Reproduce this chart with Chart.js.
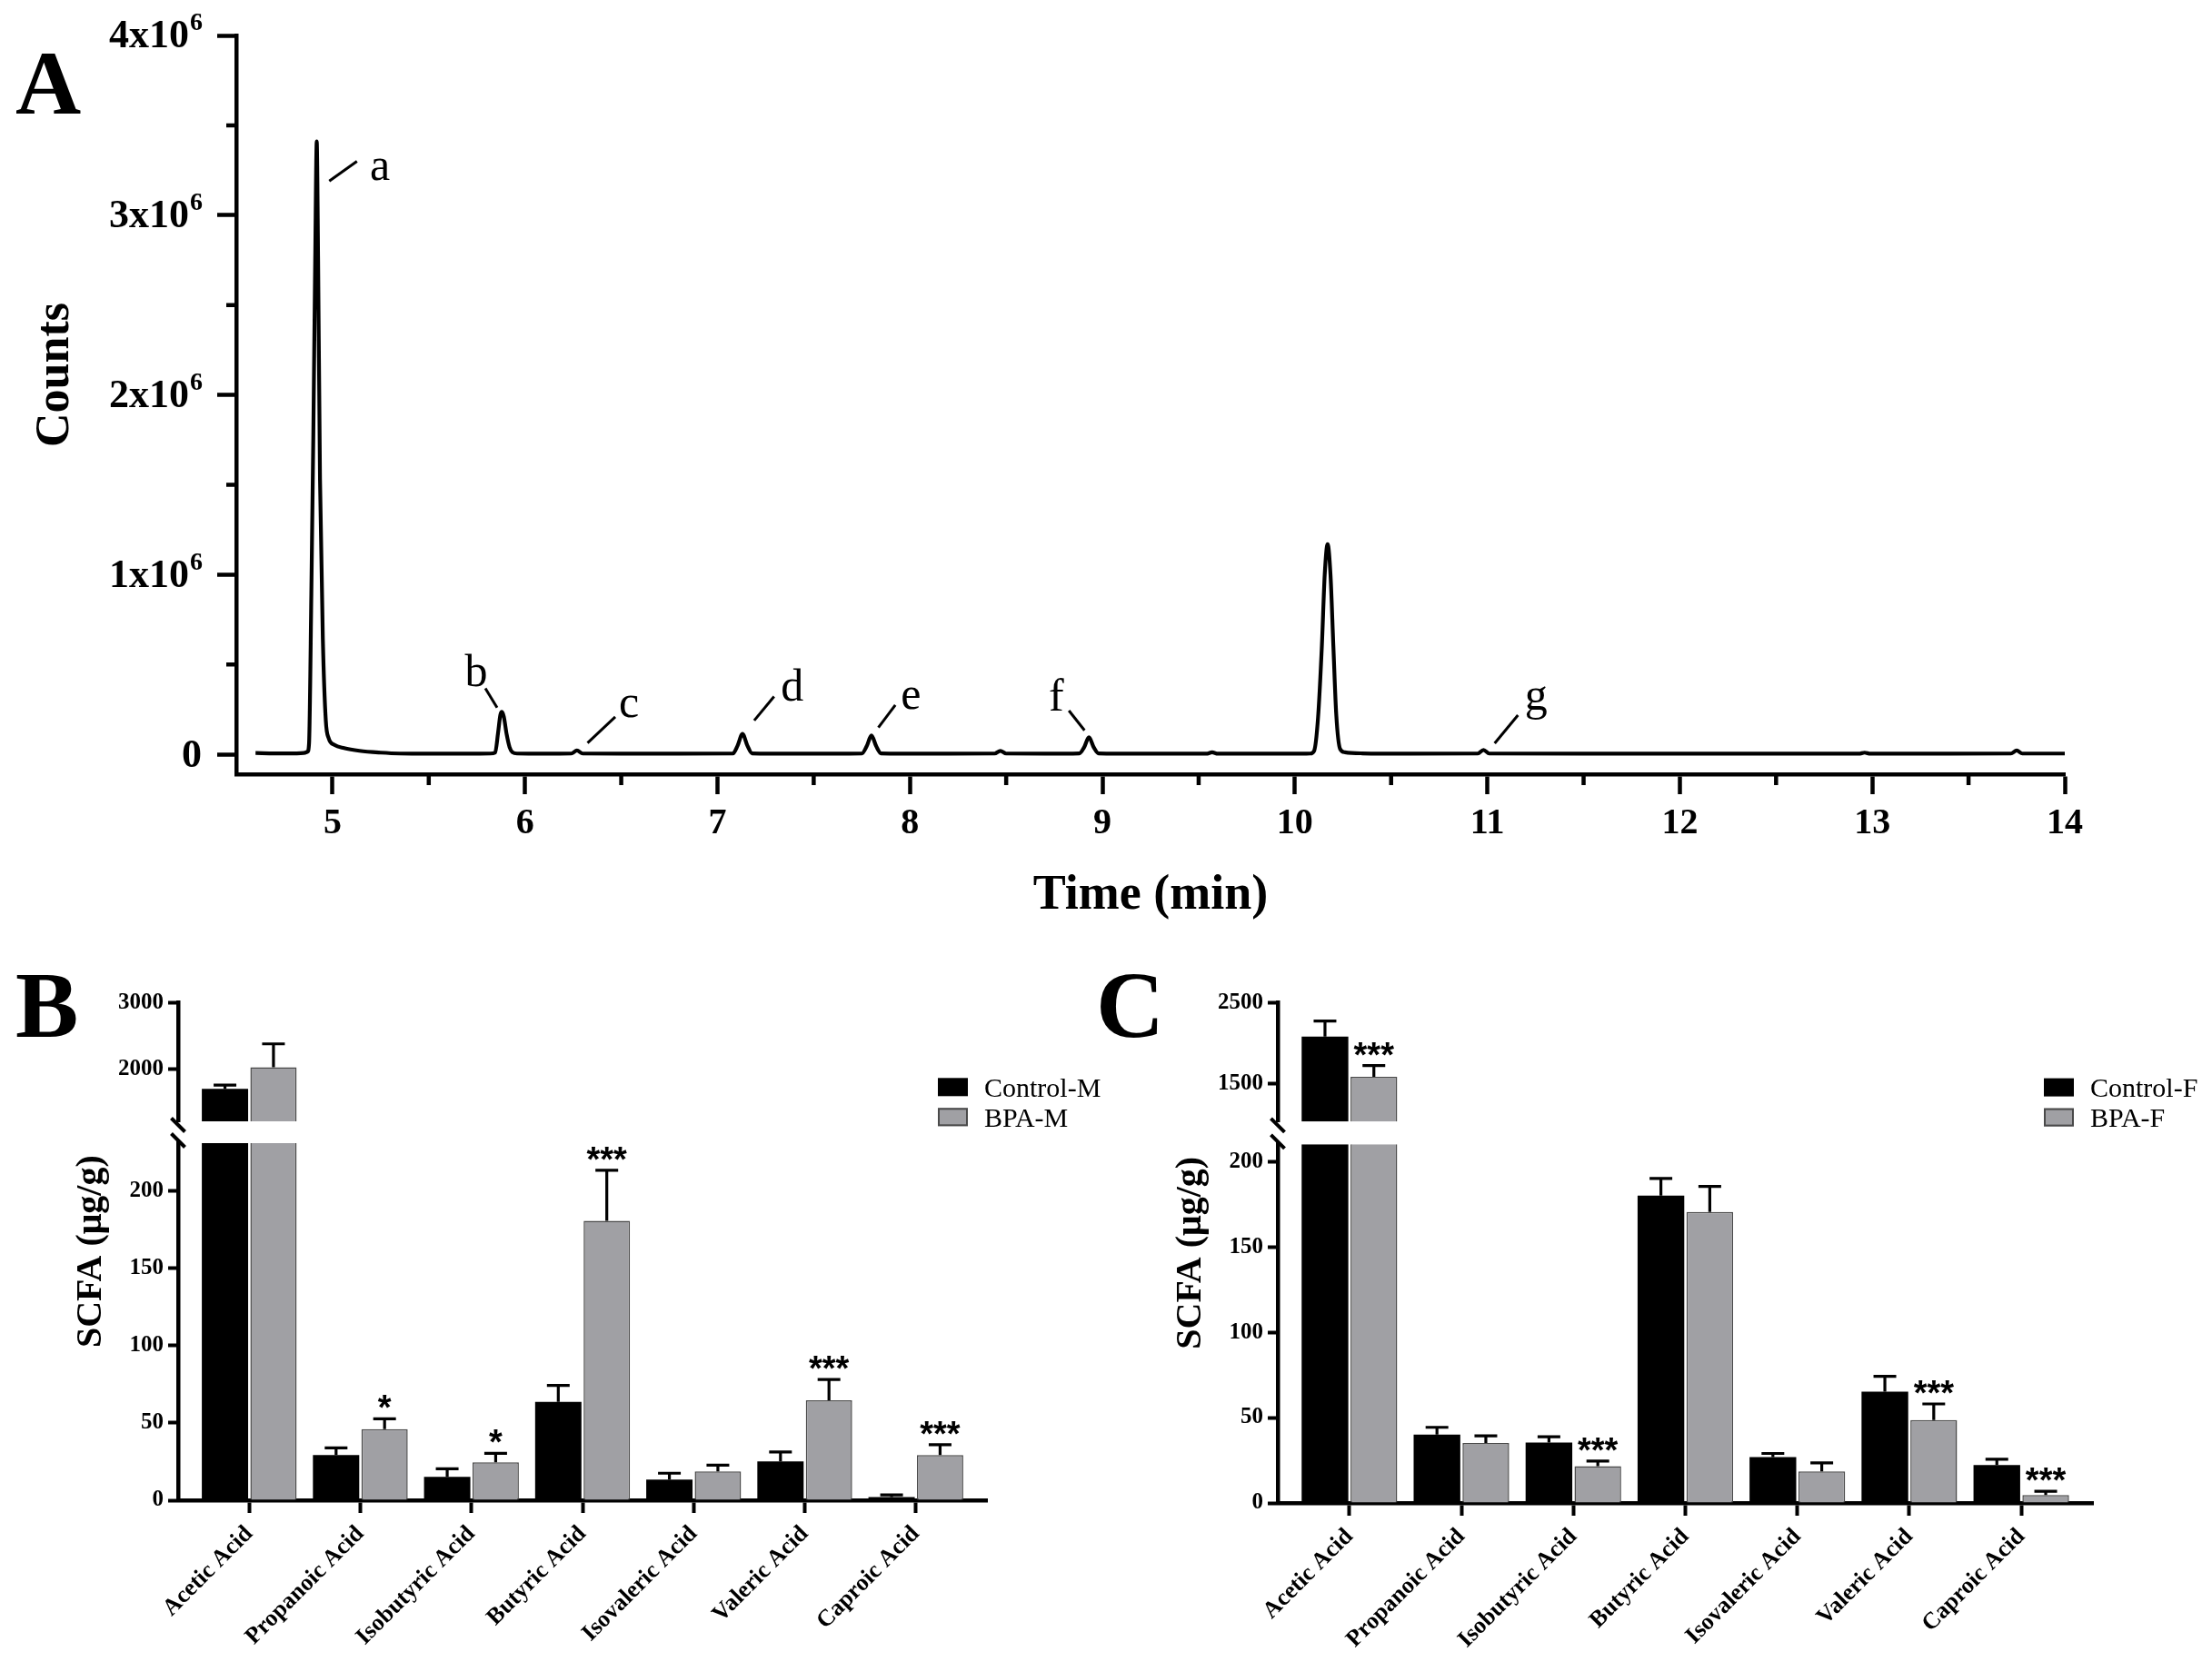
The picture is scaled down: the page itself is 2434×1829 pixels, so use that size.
<!DOCTYPE html>
<html>
<head>
<meta charset="utf-8">
<title>SCFA chromatogram and concentrations</title>
<script src="https://cdn.jsdelivr.net/npm/chart.js"></script>
<style>
    html, body {
        margin: 0;
        padding: 0;
        background: #fff;
    }
    body {
        position: relative;
        width: 2434px;
        height: 1829px;
        overflow: hidden;
    }
    .panel {
        position: absolute;
    }
    .tag {
        position: absolute;
        font-family: 'Liberation Serif', 'Times New Roman', serif;
        font-weight: bold;
        line-height: 1;
        color: #000;
    }
</style>
</head>
<body>
<div class="panel" style="left:0;top:0;width:2434px;height:1040px"><canvas id="chartA"></canvas></div>
<div class="panel" style="left:0;top:1040px;width:1217px;height:789px"><canvas id="chartB"></canvas></div>
<div class="panel" style="left:1217px;top:1040px;width:1217px;height:789px"><canvas id="chartC"></canvas></div>
<div class="tag" style="left:17px;top:42px;font-size:100px">A</div>
<div class="tag" style="left:17px;top:1054px;font-size:104px">B</div>
<div class="tag" style="left:1206px;top:1054px;font-size:104px">C</div>

<script>
const SERIF = "'Liberation Serif', 'Times New Roman', serif";
const SANS = "'Liberation Sans', Arial, sans-serif";

// ---- Panel A: chromatogram (time in min, counts in units of 10^6) ----
const timeMin = [
    4.60, 4.70, 4.80, 4.85, 4.87, 4.878, 4.89, 4.90, 4.91, 4.918, 4.925, 4.935, 4.95, 4.965, 4.98,
    5.01, 5.06, 5.14, 5.25, 5.35, 5.50, 5.70,
    5.82, 5.845, 5.86, 5.872, 5.88, 5.89, 5.905, 5.92, 5.935, 5.96,
    6.10, 6.24, 6.27, 6.30, 6.50, 6.80,
    7.08, 7.105, 7.13, 7.155, 7.18, 7.40, 7.60,
    7.75, 7.775, 7.80, 7.825, 7.85, 8.10,
    8.44, 8.47, 8.50, 8.70,
    8.88, 8.905, 8.93, 8.955, 8.98, 9.20,
    9.54, 9.57, 9.60, 9.90,
    10.08, 10.10, 10.12, 10.14, 10.155, 10.17, 10.185, 10.20, 10.215, 10.235, 10.26, 10.35, 10.60,
    10.95, 10.98, 11.01, 11.50, 12.00, 12.50,
    12.93, 12.96, 12.99, 13.40,
    13.72, 13.75, 13.78, 14.00
];
const countsM = [
    0.008, 0.006, 0.006, 0.008, 0.015, 0.06, 0.9, 1.75, 2.75, 3.41, 2.76, 1.53, 0.63, 0.19, 0.09,
    0.053, 0.035, 0.02, 0.01, 0.005, 0.004, 0.004,
    0.005, 0.01, 0.12, 0.22, 0.237, 0.21, 0.11, 0.04, 0.012, 0.005,
    0.004, 0.005, 0.022, 0.005, 0.004, 0.004,
    0.005, 0.05, 0.115, 0.05, 0.006, 0.004, 0.004,
    0.005, 0.045, 0.105, 0.045, 0.006, 0.004,
    0.005, 0.02, 0.005, 0.004,
    0.006, 0.04, 0.095, 0.04, 0.006, 0.004,
    0.004, 0.012, 0.004, 0.004,
    0.005, 0.02, 0.2, 0.6, 1.0, 1.17, 1.0, 0.6, 0.22, 0.03, 0.012, 0.006, 0.004,
    0.005, 0.025, 0.005, 0.004, 0.004, 0.004,
    0.004, 0.01, 0.004, 0.004,
    0.005, 0.022, 0.005, 0.005
];

// peak letters and their leader lines (data units)
const peakTags = ['a', 'b', 'c', 'd', 'e', 'f', 'g'];
const tagTime = [5.246, 5.747, 6.54, 7.389, 8.005, 8.761, 11.253];
const tagCount = [3.197, 0.382, 0.21, 0.30, 0.252, 0.244, 0.25];
const leaderFrom = [[4.983, 3.19], [5.794, 0.368], [6.325, 0.064], [7.191, 0.189], [7.836, 0.15], [8.826, 0.244], [11.038, 0.062]];
const leaderTo = [[5.127, 3.30], [5.855, 0.26], [6.469, 0.209], [7.294, 0.322], [7.924, 0.275], [8.907, 0.134], [11.159, 0.219]];

// ---- Panels B and C: SCFA concentrations (µg/g) ----
const categories = ['Acetic Acid', 'Propanoic Acid', 'Isobutyric Acid', 'Butyric Acid', 'Isovaleric Acid', 'Valeric Acid', 'Caproic Acid'];

const controlM = [1706, 29.2, 15.2, 63.6, 13.4, 25.1, 2.0];
const controlMErr = [58, 4.7, 5.2, 10.7, 4.1, 6.1, 1.5];
const bpaM = [2032, 46.0, 24.5, 180.8, 18.7, 64.7, 29.2];
const bpaMErr = [349, 6.7, 5.8, 32.6, 4.0, 13.4, 6.7];
const sigM = ['', '*', '*', '***', '', '***', '***'];

const controlF = [2081, 40.1, 35.4, 180.0, 26.9, 65.2, 22.2];
const controlFErr = [194, 4.2, 3.4, 10.0, 2.1, 9.0, 3.4];
const bpaF = [1584, 35.1, 21.6, 170.4, 18.5, 48.5, 4.7];
const bpaFErr = [140, 4.2, 2.9, 15.0, 5.0, 9.5, 2.2];
const sigF = ['***', '', '***', '', '', '***', '***'];

// tick labels of the broken value axes
const lowTicksM = [0, 50, 100, 150, 200];
const highTicksM = [2000, 3000];
const lowTicksF = [0, 50, 100, 150, 200];
const highTicksF = [1500, 2500];

const GRAY = '#a0a0a4';

function zeroPadding(axis) {
    axis.paddingLeft = 0;
    axis.paddingRight = 0;
    axis.paddingTop = 0;
    axis.paddingBottom = 0;
}

// draws minor ticks, superscript tick labels, the y title and the peak letters
const chromDecor = {
    id: 'chromDecor',
    afterDraw(chart) {
        const { ctx, chartArea } = chart;
        const xs = chart.scales.x;
        const ys = chart.scales.y;
        ctx.save();
        ctx.strokeStyle = '#000';
        ctx.fillStyle = '#000';
        ctx.lineWidth = 4.5;

        // minor ticks halfway between major ones
        ctx.beginPath();
        xs.ticks.forEach(t => {
            const v = t.value + 0.5;
            if (v < xs.max) {
                const px = xs.getPixelForValue(v);
                ctx.moveTo(px, chartArea.bottom);
                ctx.lineTo(px, chartArea.bottom + 12);
            }
        });
        ys.ticks.forEach(t => {
            const v = t.value + 0.5;
            if (v < ys.max) {
                const py = ys.getPixelForValue(v);
                ctx.moveTo(chartArea.left, py);
                ctx.lineTo(chartArea.left - 11, py);
            }
        });
        ctx.stroke();

        // y tick labels such as 3x10^6
        const right = chartArea.left - 38;
        ctx.textBaseline = 'middle';
        ctx.textAlign = 'left';
        ys.ticks.forEach(t => {
            const py = ys.getPixelForValue(t.value) + 2;
            const base = t.value === 0 ? '0' : t.value + 'x10';
            const sup = t.value === 0 ? '' : '6';
            ctx.font = `bold 28px ${SERIF}`;
            const supW = sup ? ctx.measureText(sup).width : 0;
            ctx.font = `bold 44px ${SERIF}`;
            const baseW = ctx.measureText(base).width;
            const x0 = right - supW - baseW;
            ctx.fillText(base, x0, py);
            if (sup) {
                ctx.font = `bold 28px ${SERIF}`;
                ctx.fillText(sup, x0 + baseW + 1, py - 15);
            }
        });

        // y axis title
        ctx.save();
        ctx.translate(chartArea.left - 198, (chartArea.top + chartArea.bottom) / 2 - 33);
        ctx.rotate(-Math.PI / 2);
        ctx.textAlign = 'center';
        ctx.font = `bold 52px ${SERIF}`;
        ctx.fillText('Counts', 0, 0);
        ctx.restore();

        // peak letters with leader lines
        ctx.lineWidth = 3;
        ctx.font = `50px ${SERIF}`;
        ctx.textAlign = 'center';
        ctx.textBaseline = 'alphabetic';
        peakTags.forEach((tag, i) => {
            ctx.beginPath();
            ctx.moveTo(xs.getPixelForValue(leaderFrom[i][0]), ys.getPixelForValue(leaderFrom[i][1]));
            ctx.lineTo(xs.getPixelForValue(leaderTo[i][0]), ys.getPixelForValue(leaderTo[i][1]));
            ctx.stroke();
            ctx.fillText(tag, xs.getPixelForValue(tagTime[i]), ys.getPixelForValue(tagCount[i]));
        });
        ctx.restore();
    }
};

new Chart(document.getElementById('chartA'), {
    type: 'line',
    data: {
        datasets: [{
            data: timeMin.map((t, i) => ({ x: t, y: countsM[i] })),
            borderColor: '#000',
            borderWidth: 4.2,
            borderJoinStyle: 'round',
            pointRadius: 0,
            cubicInterpolationMode: 'monotone',
            fill: false
        }]
    },
    options: {
        responsive: true,
        maintainAspectRatio: false,
        animation: false,
        layout: { padding: { top: 39, right: 162, bottom: 0, left: 0 } },
        plugins: {
            legend: { display: false },
            tooltip: { enabled: false }
        },
        scales: {
            x: {
                type: 'linear',
                min: 4.5,
                max: 14,
                ticks: {
                    stepSize: 1,
                    includeBounds: false,
                    maxRotation: 0,
                    autoSkip: false,
                    color: '#000',
                    padding: 9,
                    font: { family: SERIF, size: 40, weight: 'bold' }
                },
                grid: { drawOnChartArea: false, tickLength: 22, tickWidth: 4.5, tickColor: '#000' },
                border: { color: '#000', width: 4.5 },
                title: {
                    display: true,
                    text: 'Time (min)',
                    color: '#000',
                    font: { family: SERIF, size: 54, weight: 'bold' },
                    padding: { top: 0, bottom: 22 }
                },
                afterFit(axis) {
                    axis.height = 188;
                    zeroPadding(axis);
                }
            },
            y: {
                type: 'linear',
                min: -0.11,
                max: 4,
                ticks: { stepSize: 1, includeBounds: false, display: false },
                grid: { drawOnChartArea: false, tickLength: 21, tickWidth: 4.5, tickColor: '#000' },
                border: { color: '#000', width: 4.5 },
                afterFit(axis) {
                    axis.width = 260;
                    zeroPadding(axis);
                }
            }
        }
    },
    plugins: [chromDecor]
});

// keeps each bar dataset inside its own axis segment
const segmentClip = {
    id: 'segmentClip',
    beforeDatasetDraw(chart, args) {
        const ys = args.meta.yScale;
        const ctx = chart.ctx;
        ctx.save();
        ctx.beginPath();
        ctx.rect(chart.chartArea.left, ys.top, chart.chartArea.width, ys.bottom - ys.top);
        ctx.clip();
    },
    afterDatasetDraw(chart) {
        chart.ctx.restore();
    }
};

// upward SEM error bars and significance stars
const errorBars = {
    id: 'errorBars',
    afterDatasetsDraw(chart) {
        const ctx = chart.ctx;
        chart.data.datasets.forEach((ds, di) => {
            const meta = chart.getDatasetMeta(di);
            const ys = chart.scales[meta.yAxisID];
            ctx.save();
            ctx.beginPath();
            ctx.rect(chart.chartArea.left, ys.top, chart.chartArea.width, ys.bottom - ys.top);
            ctx.clip();
            ctx.strokeStyle = '#000';
            ctx.lineWidth = 3.2;
            meta.data.forEach((bar, i) => {
                const y0 = ys.getPixelForValue(ds.data[i]);
                const y1 = ys.getPixelForValue(ds.data[i] + ds.errors[i]);
                ctx.beginPath();
                ctx.moveTo(bar.x, y0);
                ctx.lineTo(bar.x, y1);
                ctx.moveTo(bar.x - 12.5, y1);
                ctx.lineTo(bar.x + 12.5, y1);
                ctx.stroke();
            });
            ctx.restore();

            if (!ds.sig) return;
            ctx.save();
            ctx.fillStyle = '#000';
            ctx.font = `bold 38px ${SANS}`;
            ctx.textAlign = 'center';
            ctx.textBaseline = 'alphabetic';
            meta.data.forEach((bar, i) => {
                const top = ds.data[i] + ds.errors[i];
                if (ds.sig[i] && top >= ys.min && top <= ys.max) {
                    ctx.fillText(ds.sig[i], bar.x, ys.getPixelForValue(top) + 1);
                }
            });
            ctx.restore();
        });
    }
};

// axis break marks, y title and legend of the bar panels
const barDecor = {
    id: 'barDecor',
    afterDraw(chart, args, opts) {
        const { ctx, chartArea } = chart;
        const hi = chart.scales.yHigh;
        const lo = chart.scales.yLow;
        ctx.save();
        ctx.strokeStyle = '#000';
        ctx.fillStyle = '#000';
        ctx.lineWidth = 4;
        [hi.bottom + 4, lo.top - 3].forEach(cy => {
            ctx.beginPath();
            ctx.moveTo(chartArea.left - 7.5, cy - 7.5);
            ctx.lineTo(chartArea.left + 7.5, cy + 7.5);
            ctx.stroke();
        });

        ctx.save();
        ctx.translate(chartArea.left - 95, (hi.top + lo.bottom) / 2);
        ctx.rotate(-Math.PI / 2);
        ctx.font = `bold 40px ${SERIF}`;
        ctx.textAlign = 'center';
        ctx.textBaseline = 'middle';
        ctx.fillText(opts.title, 0, 0);
        ctx.restore();

        // legend from the first two datasets
        ctx.font = `30px ${SERIF}`;
        ctx.textAlign = 'left';
        ctx.textBaseline = 'alphabetic';
        chart.data.datasets.slice(0, 2).forEach((ds, k) => {
            const bx = chartArea.right - 54;
            const by = hi.top + 83 + k * 33;
            ctx.fillStyle = ds.backgroundColor;
            ctx.fillRect(bx, by, 33, 20);
            if (ds.borderWidth) {
                ctx.strokeStyle = ds.borderColor;
                ctx.lineWidth = 2;
                ctx.strokeRect(bx + 1, by + 1, 31, 18);
            }
            ctx.fillStyle = '#000';
            ctx.fillText(ds.label, bx + 51, by + 20.5);
        });
        ctx.restore();
    }
};

function barPanel(canvasId, p) {
    const makeSets = (axisId) => [
        {
            label: p.names[0], data: p.control, errors: p.controlErr, yAxisID: axisId, stack: 'control',
            backgroundColor: '#000', borderColor: '#000', borderWidth: 0
        },
        {
            label: p.names[1], data: p.bpa, errors: p.bpaErr, sig: p.sig, yAxisID: axisId, stack: 'bpa',
            backgroundColor: GRAY, borderColor: '#4a4a4a', borderWidth: 1.5
        }
    ];
    const yCommon = {
        position: 'left',
        stack: 'segments',
        stacked: false,
        offset: false,
        grid: { drawOnChartArea: false, tickLength: 11, tickWidth: 4, tickColor: '#000' },
        border: { color: '#000', width: 4.5 },
        ticks: {
            color: '#000',
            padding: 5,
            font: { family: SERIF, size: 25, weight: 'bold' },
            callback: (v) => String(v)
        },
        afterFit(axis) {
            axis.width = p.axisLeft;
            zeroPadding(axis);
        }
    };

    return new Chart(document.getElementById(canvasId), {
        type: 'bar',
        data: {
            labels: categories.map((c, i) => i),
            datasets: [...makeSets('yLow'), ...makeSets('yHigh')]
        },
        options: {
            responsive: true,
            maintainAspectRatio: false,
            animation: false,
            categoryPercentage: 0.873,
            barPercentage: 0.955,
            layout: { padding: { top: p.top, right: 131, bottom: 0, left: 0 } },
            plugins: {
                legend: { display: false },
                tooltip: { enabled: false },
                barDecor: { title: 'SCFA (μg/g)' }
            },
            scales: {
                x: {
                    type: 'linear',
                    min: -0.64,
                    max: 6.64,
                    offset: false,
                    grid: { offset: false, drawOnChartArea: false, tickLength: 14, tickWidth: 4, tickColor: '#000' },
                    border: { color: '#000', width: 4.5 },
                    ticks: {
                        color: '#000',
                        padding: 8,
                        minRotation: 45,
                        maxRotation: 45,
                        autoSkip: false,
                        font: { family: SERIF, size: 26, weight: 'bold' },
                        callback: (v) => categories[v]
                    },
                    afterBuildTicks(axis) {
                        axis.ticks = categories.map((c, i) => ({ value: i }));
                    },
                    afterFit(axis) {
                        axis.height = p.xHeight;
                        zeroPadding(axis);
                    }
                },
                yLow: Object.assign({}, yCommon, {
                    min: 0,
                    max: p.lowMax,
                    stackWeight: p.weights[2],
                    afterBuildTicks(axis) {
                        axis.ticks = p.lowTicks.map(v => ({ value: v }));
                    }
                }),
                yGap: {
                    position: 'left',
                    stack: 'segments',
                    stackWeight: p.weights[1],
                    min: 0,
                    max: 1,
                    ticks: { display: false },
                    grid: { display: false },
                    border: { display: false },
                    afterFit(axis) {
                        axis.width = p.axisLeft;
                        zeroPadding(axis);
                    }
                },
                yHigh: Object.assign({}, yCommon, {
                    min: p.highMin,
                    max: p.highMax,
                    stackWeight: p.weights[0],
                    afterBuildTicks(axis) {
                        axis.ticks = p.highTicks.map(v => ({ value: v }));
                    }
                })
            }
        },
        plugins: [segmentClip, errorBars, barDecor]
    });
}

barPanel('chartB', {
    names: ['Control-M', 'BPA-M'],
    control: controlM, controlErr: controlMErr,
    bpa: bpaM, bpaErr: bpaMErr, sig: sigM,
    lowMax: 231, highMin: 1220, highMax: 3000,
    lowTicks: lowTicksM, highTicks: highTicksM,
    weights: [130.7, 24, 393],
    axisLeft: 196, top: 63.3, xHeight: 178
});

barPanel('chartC', {
    names: ['Control-F', 'BPA-F'],
    control: controlF, controlErr: controlFErr,
    bpa: bpaF, bpaErr: bpaFErr, sig: sigF,
    lowMax: 210, highMin: 1030, highMax: 2500,
    lowTicks: lowTicksF, highTicks: highTicksF,
    weights: [130.7, 25, 394.7],
    axisLeft: 189, top: 63.6, xHeight: 175
});
</script>
</body>
</html>
